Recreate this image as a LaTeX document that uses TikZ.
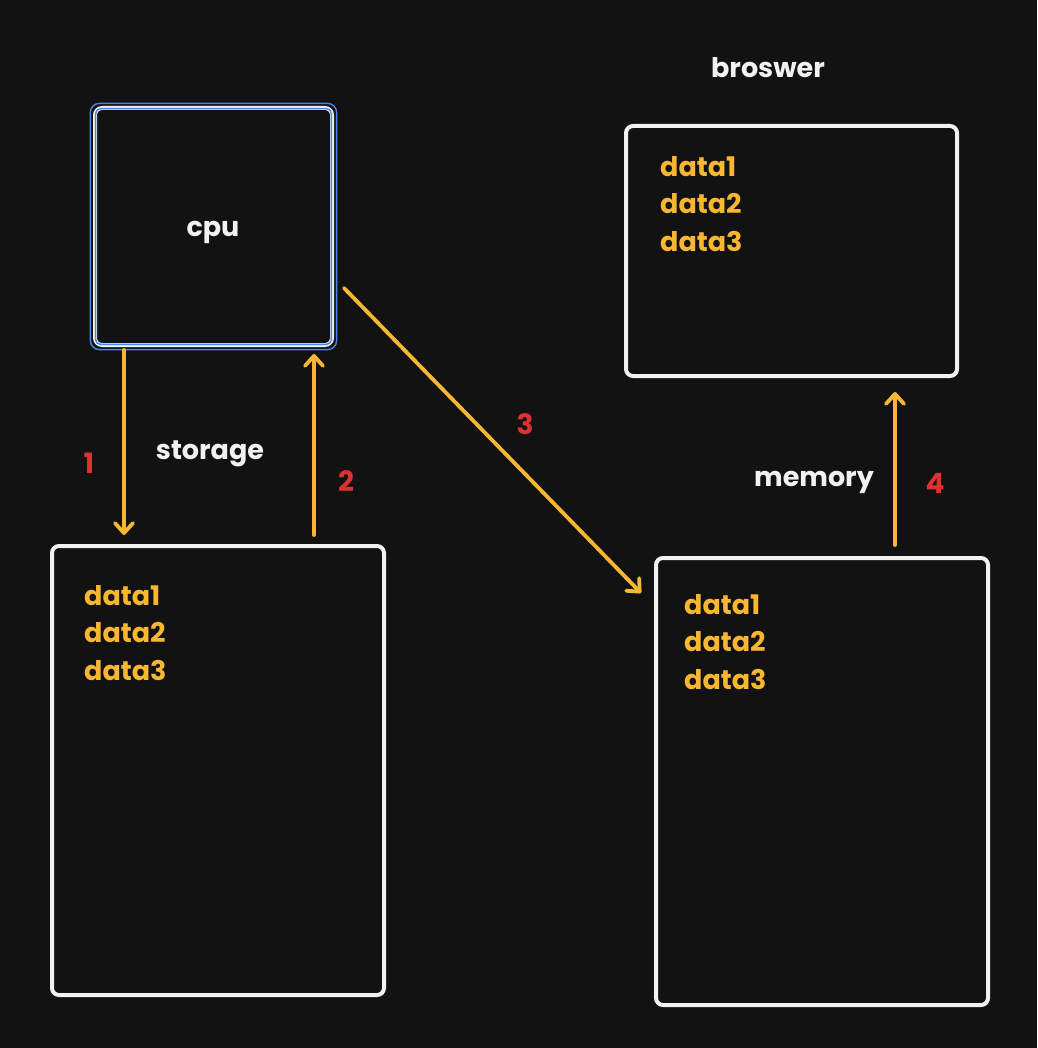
\documentclass[tikz,border=0pt]{standalone}
\usepackage{fontspec}
\setmainfont{Poppins}
\usetikzlibrary{arrows.meta}
\definecolor{bg}{HTML}{121212}
\definecolor{ink}{HTML}{F1F1F1}
\definecolor{amber}{HTML}{F7B733}
\definecolor{crimson}{HTML}{E03131}
\definecolor{selblue}{HTML}{4A86E8}
\tikzset{
  box/.style={draw=ink, line width=4pt, rounded corners=7pt, fill=bg, inner sep=0pt},
  selring/.style={draw=selblue, line width=1.4pt},
  label/.style={text=ink, font=\fontsize{27}{32}\selectfont\bfseries},
  num/.style={text=crimson, font=\fontsize{28}{32}\selectfont\bfseries},
  datalist/.style={text=amber, align=left, anchor=north west, inner sep=0pt,
    font=\fontsize{27}{37.5}\selectfont\bfseries},
  arr/.style={draw=amber, line width=3.8pt, line cap=round,
    -{Straight Barb[length=10pt, width=18pt, line width=3.8pt, round]}}
}
\begin{document}
\begin{tikzpicture}[x=1pt, y=-1pt]
  \fill[bg] (0,0) rectangle (1037,1048);
  \useasboundingbox (0,0) rectangle (1037,1048);

  % processor box with selection outline
  \node[box, minimum width=237pt, minimum height=237pt] (cpu) at (213.5,226.5) {};
  \draw[selring, rounded corners=9pt] ([shift={(-2.6,2.6)}]cpu.south west) rectangle ([shift={(2.6,-2.6)}]cpu.north east);
  \draw[selring, rounded corners=5pt] ([shift={(2.6,-2.6)}]cpu.south west) rectangle ([shift={(-2.6,2.6)}]cpu.north east);
  \node[label] (cpulbl) at (213,232) {cpu};

  % storage, memory and browser boxes
  \node[box, minimum width=332pt, minimum height=449pt] (storage) at (218,770.5) {};
  \node[box, minimum width=332pt, minimum height=447pt] (memory) at (822,781.5) {};
  \node[box, minimum width=331pt, minimum height=250pt] (browser) at (791.5,251) {};

  % contents
  \node[datalist] (sdata) at (84,585) {data1\\data2\\data3};
  \node[datalist] (mdata) at (684,594) {data1\\data2\\data3};
  \node[datalist] (bdata) at (660,156) {data1\\data2\\data3};

  % captions
  \node[label] (slbl) at (210,454) {storage};
  \node[label] (mlbl) at (814,482) {memory};
  \node[label] (blbl) at (768,68) {broswer};

  % step numbers
  \node[num] (n1) at (89,463) {1};
  \node[num] (n2) at (346,481) {2};
  \node[num] (n3) at (525,424) {3};
  \node[num] (n4) at (935,483) {4};

  % data flow
  \draw[arr] ([shift={(31,3)}]cpu.south west) -- ([shift={(74,-9)}]storage.north west);
  \draw[arr] ([shift={(264,-9)}]storage.north west) -- ([shift={(221,7)}]cpu.south west);
  \draw[arr] ([shift={(10,182)}]cpu.north east) -- ([shift={(-13,37)}]memory.north west);
  \draw[arr] ([shift={(241,-11)}]memory.north west) -- ([shift={(271,14)}]browser.south west);
\end{tikzpicture}
\end{document}
